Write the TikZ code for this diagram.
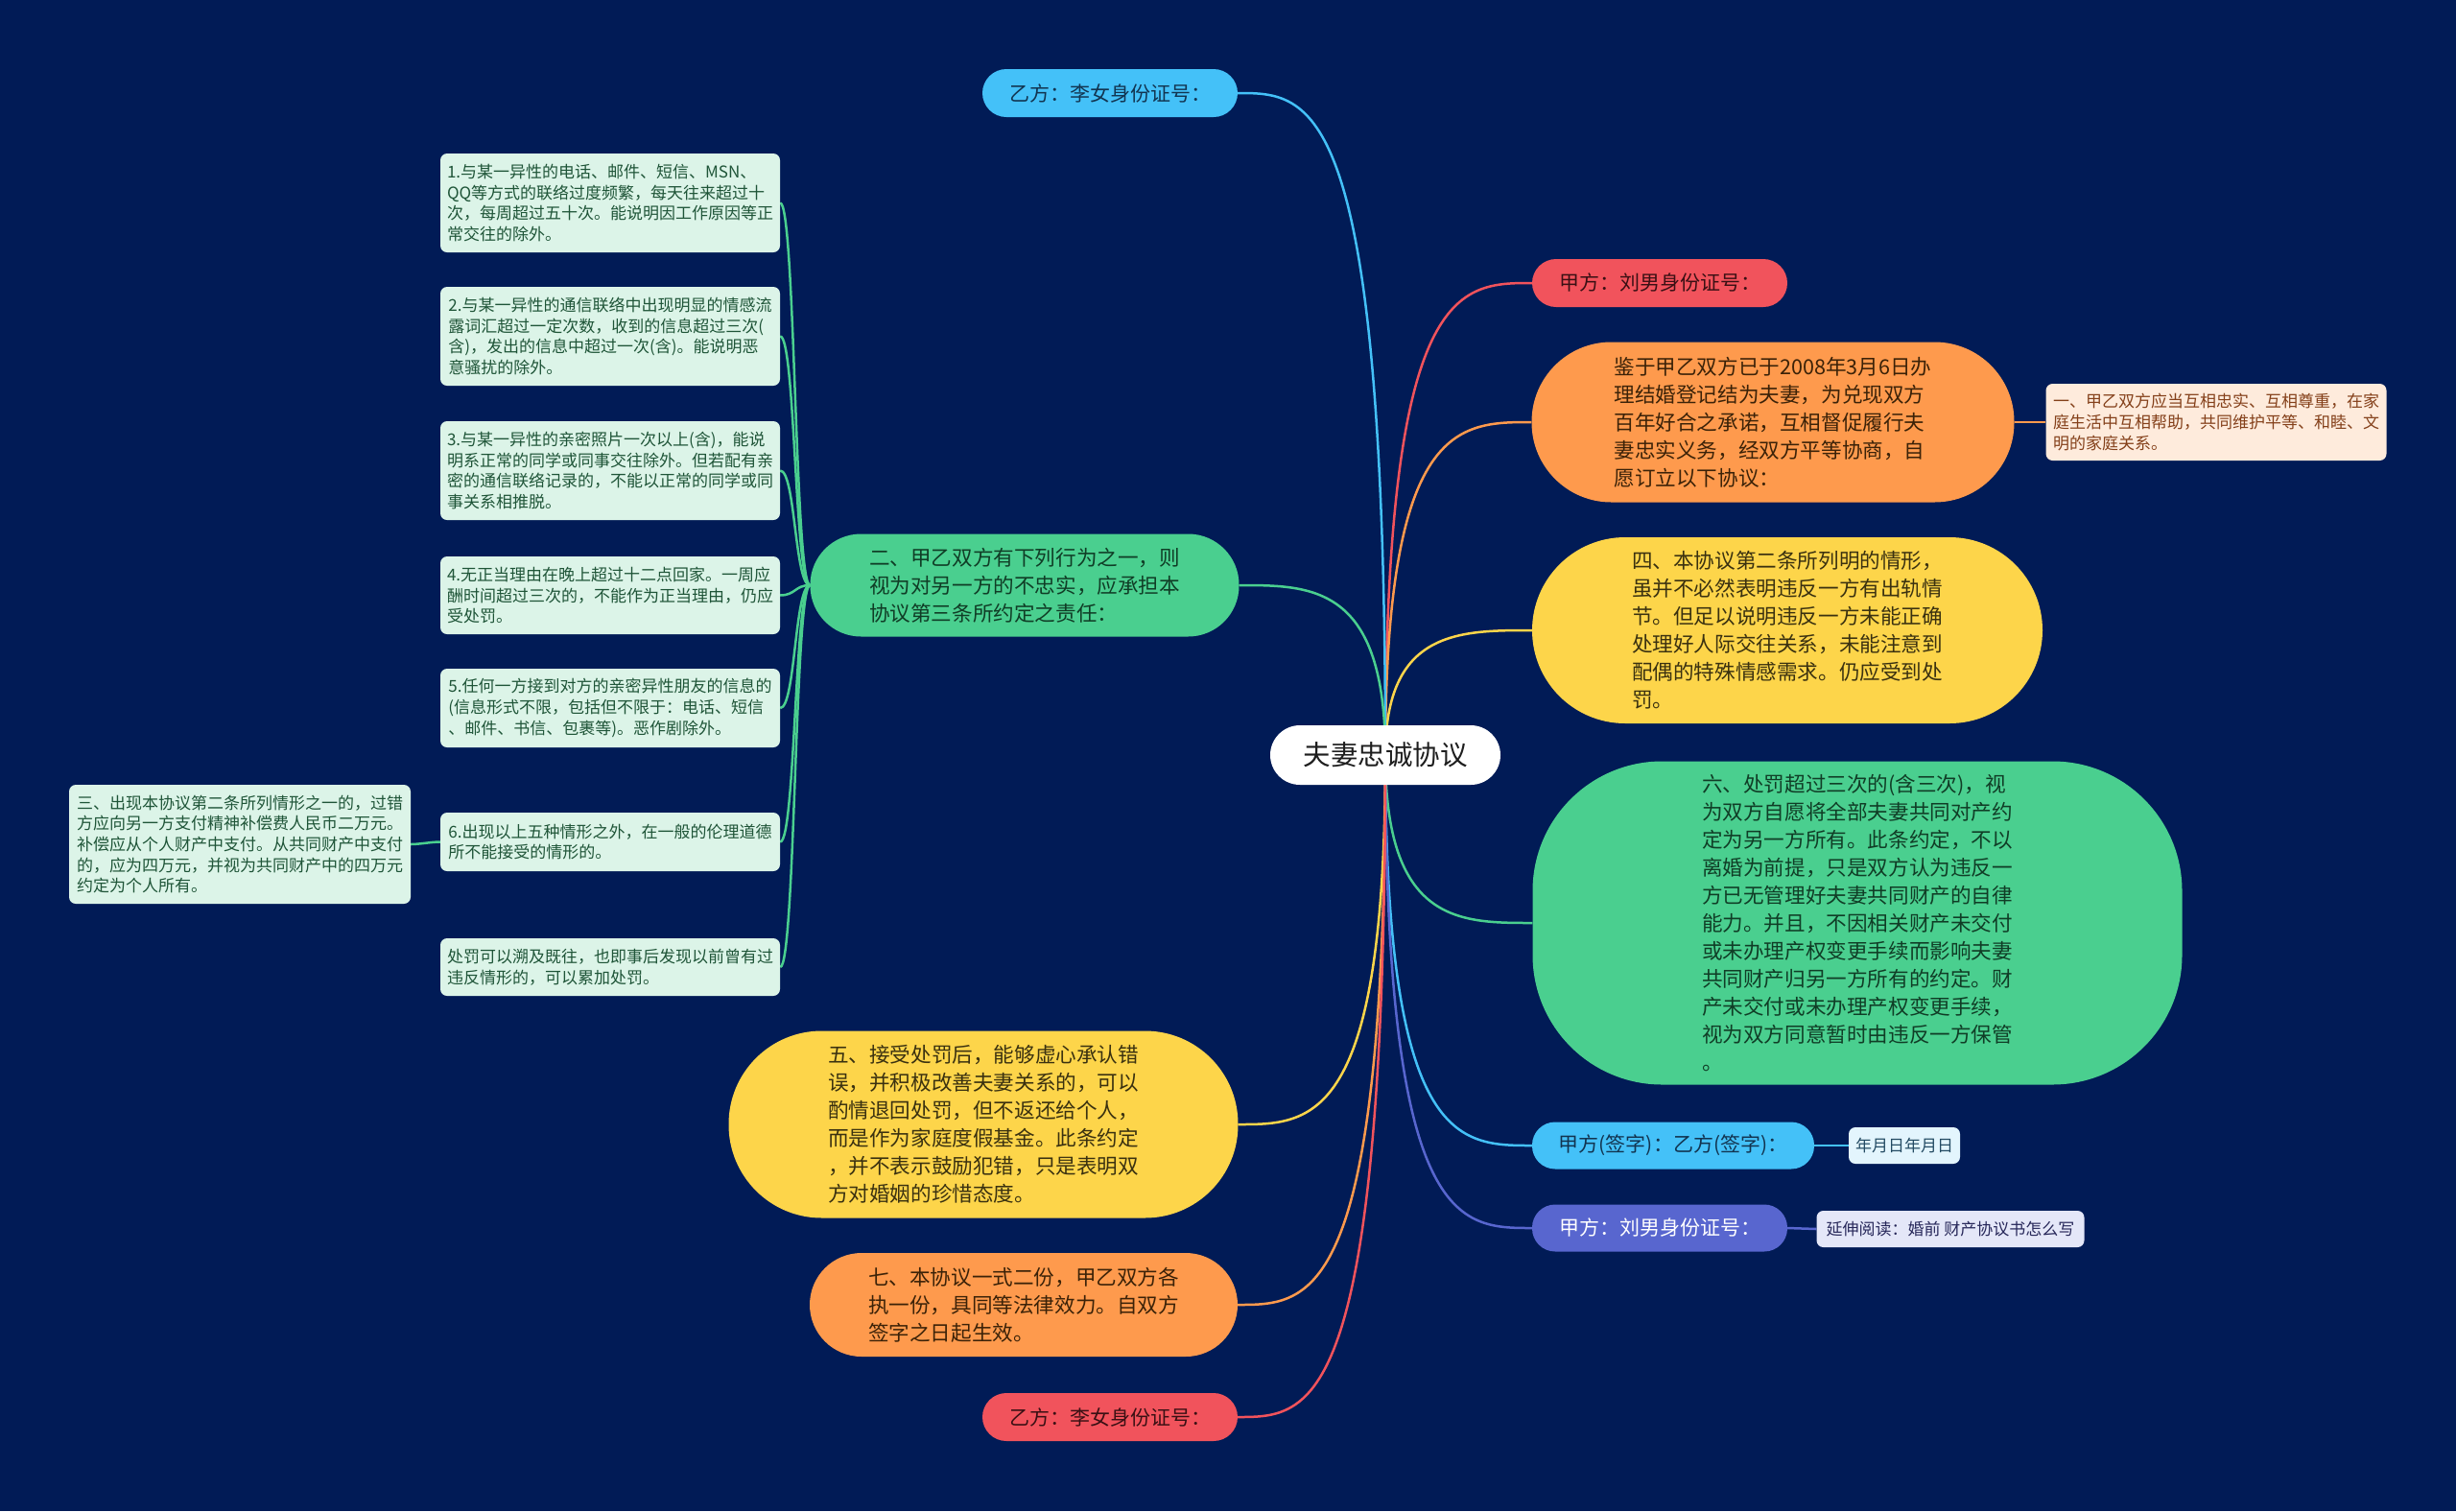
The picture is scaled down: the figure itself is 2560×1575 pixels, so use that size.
\documentclass[tikz,border=0pt]{standalone}
\usepackage{fontspec}
\setmainfont{Noto Sans CJK SC}
\usetikzlibrary{calc}
\pgfdeclarelayer{background}
\pgfsetlayers{background,main}
\definecolor{bgc}{HTML}{011B56}
\definecolor{cblue}{HTML}{44C1F8}
\definecolor{cred}{HTML}{F1535C}
\definecolor{corange}{HTML}{FE9A4D}
\definecolor{cyellow}{HTML}{FDD54A}
\definecolor{cgreen}{HTML}{4ACF8F}
\definecolor{cindigo}{HTML}{5866CF}
\definecolor{leaffill}{HTML}{DCF4E8}
\definecolor{leaftext}{HTML}{1F5538}
\definecolor{peachfill}{HTML}{FEEBDC}
\definecolor{peachtext}{HTML}{84401A}
\definecolor{nyrfill}{HTML}{E3F5FD}
\definecolor{nyrtext}{HTML}{244B63}
\definecolor{ysfill}{HTML}{E4E7F8}
\definecolor{ystext}{HTML}{27285A}
\definecolor{tgreen}{HTML}{103D26}
\definecolor{tyellow}{HTML}{3A3110}
\definecolor{torange}{HTML}{3B2208}
\definecolor{tblue}{HTML}{123450}
\definecolor{tred}{HTML}{3A1014}
\definecolor{tcenter}{HTML}{1E1E1E}
\tikzset{
  pill/.style={inner sep=0pt, align=left, font=\fontsize{21.6}{29}\selectfont},
  leafbox/.style={inner sep=0pt, align=left, fill=leaffill, text=leaftext, rounded corners=7pt,
    minimum width=354pt, font=\fontsize{17}{21.7}\selectfont},
  smallbox/.style={inner sep=0pt, align=left, rounded corners=7pt, font=\fontsize{17}{22}\selectfont},
  conn/.style={line width=2.5pt}
}
\begin{document}
\begin{tikzpicture}[x=1pt,y=-1pt]
\useasboundingbox (0,0) rectangle (2560,1575);
\begin{pgfonlayer}{background}
\fill[bgc] (0,0) rectangle (2560,1575);
\end{pgfonlayer}

% center
\node[pill, fill=white, text=tcenter, minimum width=240pt, minimum height=62pt, rounded corners=31pt,
  font=\fontsize{28.5}{34}\selectfont] (c) at (1444,787) {夫妻忠诚协议};

% right side
\node[pill, fill=cblue, text=tblue, minimum width=266pt, minimum height=50pt, rounded corners=25pt, font=\fontsize{21}{29}\selectfont] (yitop) at (1157,97) {乙方：李女身份证号：};
\node[pill, fill=cred, text=tred, minimum width=266pt, minimum height=50pt, rounded corners=25pt, font=\fontsize{21}{29}\selectfont] (jiared) at (1730,295) {甲方：刘男身份证号：};
\node[pill, fill=corange, text=torange, minimum width=503pt, minimum height=167pt, rounded corners=83pt] (jianyu) at (1848,440)
 {鉴于甲乙双方已于2008年3月6日办\\理结婚登记结为夫妻，为兑现双方\\百年好合之承诺，互相督促履行夫\\妻忠实义务，经双方平等协商，自\\愿订立以下协议：};
\node[smallbox, fill=peachfill, text=peachtext, minimum width=355pt, minimum height=80pt] (peach) at (2310,440)
 {一、甲乙双方应当互相忠实、互相尊重，在家\\庭生活中互相帮助，共同维护平等、和睦、文\\明的家庭关系。};
\node[pill, fill=cyellow, text=tyellow, minimum width=532pt, minimum height=194pt, rounded corners=97pt] (si) at (1863,657)
 {四、本协议第二条所列明的情形，\\虽并不必然表明违反一方有出轨情\\节。但足以说明违反一方未能正确\\处理好人际交往关系，未能注意到\\配偶的特殊情感需求。仍应受到处\\罚。};
\node[pill, fill=cgreen, text=tgreen, minimum width=677pt, minimum height=337pt, rounded corners=135pt] (liu) at (1936,962)
 {六、处罚超过三次的(含三次)，视\\为双方自愿将全部夫妻共同对产约\\定为另一方所有。此条约定，不以\\离婚为前提，只是双方认为违反一\\方已无管理好夫妻共同财产的自律\\能力。并且，不因相关财产未交付\\或未办理产权变更手续而影响夫妻\\共同财产归另一方所有的约定。财\\产未交付或未办理产权变更手续，\\视为双方同意暂时由违反一方保管\\。};
\node[pill, fill=cblue, text=tblue, minimum width=294pt, minimum height=49pt, rounded corners=24pt, font=\fontsize{21}{29}\selectfont] (qianzi) at (1744,1194) {甲方(签字)：乙方(签字)：};
\node[smallbox, fill=nyrfill, text=nyrtext, minimum width=116pt, minimum height=38pt] (nyr) at (1985,1194) {年月日年月日};
\node[pill, fill=cindigo, text=white, minimum width=266pt, minimum height=49pt, rounded corners=24pt, font=\fontsize{21}{29}\selectfont] (liunan) at (1730,1280) {甲方：刘男身份证号：};
\node[smallbox, fill=ysfill, text=ystext, minimum width=279pt, minimum height=38pt] (yanshen) at (2033,1281) {延伸阅读：婚前 财产协议书怎么写};

% left side
\node[pill, fill=cgreen, text=tgreen, minimum width=447pt, minimum height=107pt, rounded corners=53pt] (er) at (1068,610)
 {二、甲乙双方有下列行为之一，则\\视为对另一方的不忠实，应承担本\\协议第三条所约定之责任：};
\node[pill, fill=cyellow, text=tyellow, minimum width=531pt, minimum height=195pt, rounded corners=97pt] (wu) at (1025,1172)
 {五、接受处罚后，能够虚心承认错\\误，并积极改善夫妻关系的，可以\\酌情退回处罚，但不返还给个人，\\而是作为家庭度假基金。此条约定\\，并不表示鼓励犯错，只是表明双\\方对婚姻的珍惜态度。};
\node[pill, fill=corange, text=torange, minimum width=446pt, minimum height=108pt, rounded corners=54pt] (qi) at (1067,1360)
 {七、本协议一式二份，甲乙双方各\\执一份，具同等法律效力。自双方\\签字之日起生效。};
\node[pill, fill=cred, text=tred, minimum width=266pt, minimum height=50pt, rounded corners=25pt, font=\fontsize{21}{29}\selectfont] (yibot) at (1157,1477) {乙方：李女身份证号：};

% leaves
\node[leafbox, minimum height=103pt] (l1) at (636,211.5)
 {1.与某一异性的电话、邮件、短信、MSN、\\QQ等方式的联络过度频繁，每天往来超过十\\次，每周超过五十次。能说明因工作原因等正\\常交往的除外。};
\node[leafbox, minimum height=103pt] (l2) at (636,350.5)
 {2.与某一异性的通信联络中出现明显的情感流\\露词汇超过一定次数，收到的信息超过三次(\\含)，发出的信息中超过一次(含)。能说明恶\\意骚扰的除外。};
\node[leafbox, minimum height=103pt] (l3) at (636,490.5)
 {3.与某一异性的亲密照片一次以上(含)，能说\\明系正常的同学或同事交往除外。但若配有亲\\密的通信联络记录的，不能以正常的同学或同\\事关系相推脱。};
\node[leafbox, minimum height=81pt] (l4) at (636,620.5)
 {4.无正当理由在晚上超过十二点回家。一周应\\酬时间超过三次的，不能作为正当理由，仍应\\受处罚。};
\node[leafbox, minimum height=82pt] (l5) at (636,738)
 {5.任何一方接到对方的亲密异性朋友的信息的\\(信息形式不限，包括但不限于：电话、短信\\、邮件、书信、包裹等)。恶作剧除外。};
\node[leafbox, minimum height=61pt] (l6) at (636,877.5)
 {6.出现以上五种情形之外，在一般的伦理道德\\所不能接受的情形的。};
\node[leafbox, minimum height=60pt] (l7) at (636,1008)
 {处罚可以溯及既往，也即事后发现以前曾有过\\违反情形的，可以累加处罚。};
\node[leafbox, minimum width=356pt, minimum height=124pt] (san) at (250,880)
 {三、出现本协议第二条所列情形之一的，过错\\方应向另一方支付精神补偿费人民币二万元。\\补偿应从个人财产中支付。从共同财产中支付\\的，应为四万元，并视为共同财产中的四万元\\约定为个人所有。};

% connectors
\begin{pgfonlayer}{background}
\foreach \t/\col in {jiared/cred, jianyu/corange, si/cyellow, liu/cgreen, qianzi/cblue, liunan/cindigo}{
  \draw[conn, \col] (c.center) .. controls (c.center |- \t.west) and ($(c.center |- \t.west)!0.5!(\t.west)$) .. (\t.west);
}
\foreach \t/\col in {yitop/cblue, er/cgreen, wu/cyellow, qi/corange, yibot/cred}{
  \draw[conn, \col] (c.center) .. controls (c.center |- \t.east) and ($(c.center |- \t.east)!0.5!(\t.east)$) .. (\t.east);
}
\foreach \t in {l1,l2,l3,l4,l5,l6,l7}{
  \draw[conn, cgreen] (er.west) .. controls ($(er.west)+(-16,0)$) and ($(\t.east)+(16,0)$) .. (\t.east);
}
\draw[conn, cgreen] (l6.west) .. controls ($(l6.west)+(-9,0)$) and ($(san.east)+(9,0)$) .. (san.east);
\draw[conn, corange] (jianyu.east) -- (peach.west);
\draw[conn, cblue] (qianzi.east) -- (nyr.west);
\draw[conn, cindigo] (liunan.east) -- (yanshen.west);
\end{pgfonlayer}
\end{tikzpicture}
\end{document}
